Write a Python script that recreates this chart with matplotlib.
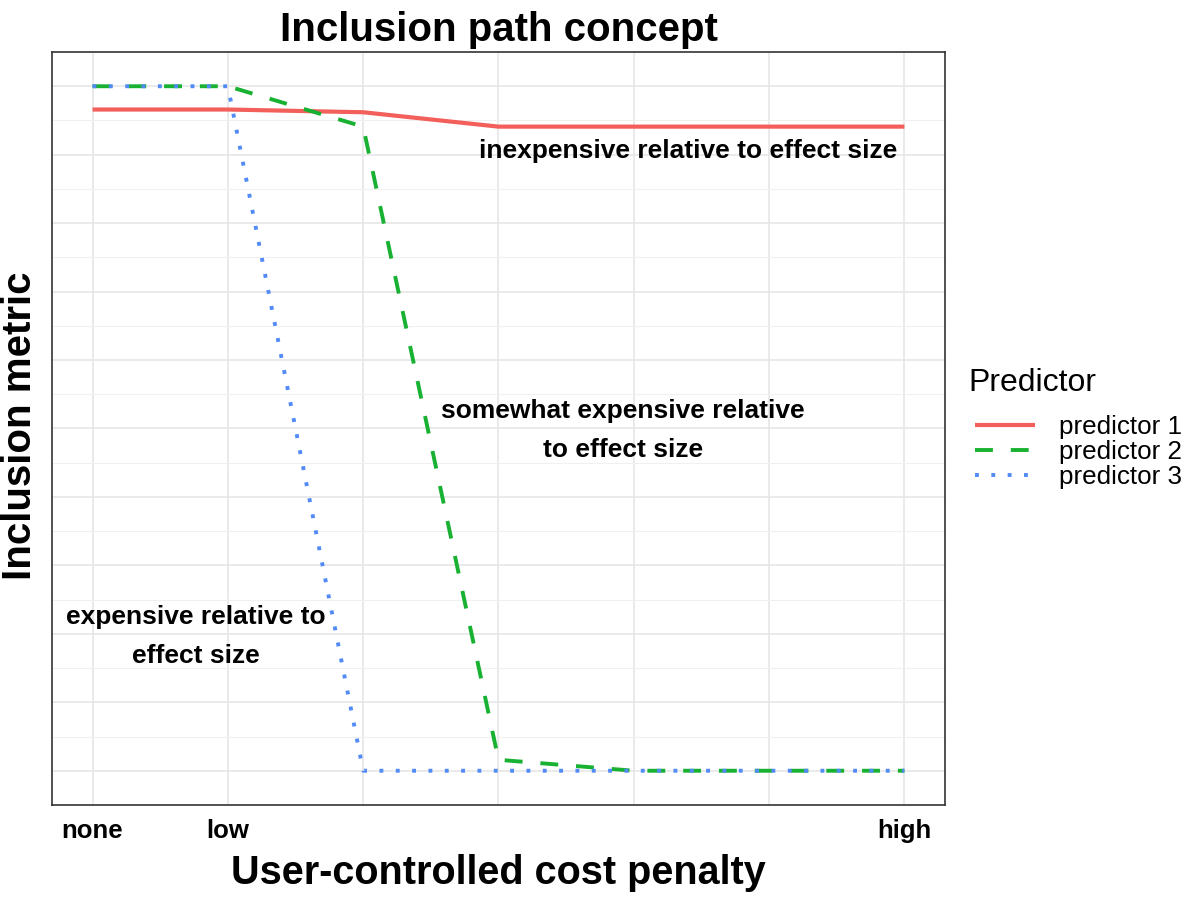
import matplotlib
matplotlib.use("Agg")
import matplotlib.pyplot as plt
import numpy as np

plt.rcParams['font.family'] = ['Liberation Sans', 'DejaVu Sans']

cost = [0, 1, 2, 3, 4, 5, 6]
cost_labels = ["none", "low", "", "", "", "", "high"]
pred1 = [0.966, 0.966, 0.962, 0.941, 0.941, 0.941, 0.941]
pred2 = [1.0, 1.0, 0.941, 0.016, 0.0, 0.0, 0.0]
pred3 = [1.0, 1.0, 0.0, 0.0, 0.0, 0.0, 0.0]
names = ["predictor 1", "predictor 2", "predictor 3"]

colors = ["#F35F5B", "#18B132", "#528AF6"]

fig = plt.figure(figsize=(12, 9), dpi=100)
ax = fig.add_axes([0.0433, 0.1056, 0.7442, 0.8366])

ax.plot(cost, pred1, color=colors[0], lw=3.0, solid_capstyle='butt', label=names[0], zorder=3)
ax.plot(cost, pred2, color=colors[1], lw=2.8, dashes=(4.6, 4.6), label=names[1], zorder=3)
ax.plot(cost, pred3, color=colors[2], lw=2.8, dashes=(1.0, 3.2), label=names[2], zorder=4)

ax.set_xlim(-0.3, 6.3)
ax.set_ylim(-0.05, 1.05)
ax.set_xticks(cost)
ax.set_xticklabels(cost_labels, fontsize=18.5, fontweight='bold')
ax.set_yticks(np.arange(0, 1.01, 0.1))
ax.set_yticks(np.arange(0.05, 1.0, 0.1), minor=True)
ax.set_yticklabels([])
ax.tick_params(axis='both', which='both', length=0, pad=10)
ax.grid(True, which='major', color='#e6e6e6', lw=1.2)
ax.grid(True, which='minor', axis='y', color='#f0f0f0', lw=0.8)
ax.set_axisbelow(True)
for s in ax.spines.values():
    s.set_color('#333333')
    s.set_linewidth(1.2)

ax.set_title("Inclusion path concept", fontsize=29, fontweight='bold', pad=8)
ax.set_xlabel("User-controlled cost penalty", fontsize=28.5, fontweight='bold', labelpad=8)
ax.set_ylabel("Inclusion metric", fontsize=29, fontweight='bold')
ax.yaxis.set_label_coords(-0.014, 0.503)

ax.text(4.40, 0.906, "inexpensive relative to effect size", fontsize=19, fontweight='bold',
        ha='center', va='center')
ax.text(3.92, 0.497, "somewhat expensive relative\nto effect size", fontsize=19, fontweight='bold',
        ha='center', va='center', linespacing=1.8)
ax.text(0.76, 0.196, "expensive relative to\neffect size", fontsize=19, fontweight='bold',
        ha='center', va='center', linespacing=1.8)

fig.text(968 / 1200, 1 - 383 / 900, "Predictor", fontsize=23, ha='left', va='center')
leg = ax.legend(loc='center left', bbox_to_anchor=(1.0336, (805 - 452) / 753), frameon=False,
                fontsize=18.7, handlelength=2.3, labelspacing=0.05, handletextpad=0.95,
                borderpad=0, borderaxespad=0)

fig.savefig("out.png", dpi=100)
